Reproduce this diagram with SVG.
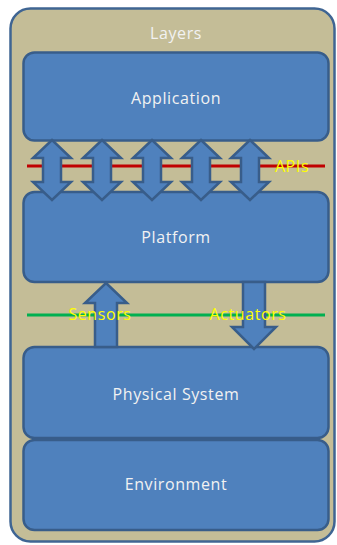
<svg xmlns="http://www.w3.org/2000/svg" width="337" height="545" viewBox="0 0 337 545">
  <style>
    .frame { fill: #C4BD97; stroke: #3F6593; stroke-width: 2.5; }
    .box { fill: #4F81BD; stroke: #385D8A; stroke-width: 2.5; }
    .arrow { fill: #4F81BD; stroke: #385D8A; stroke-width: 2.5; stroke-linejoin: miter; }
    .label { font-family: "Open Sans", "Liberation Sans", sans-serif; font-size: 16px; letter-spacing: 0.6px; fill: #F2F2F2; text-anchor: middle; }
    .tag { font-family: "Open Sans", "Liberation Sans", sans-serif; font-size: 16px; letter-spacing: 0.6px; fill: #FFFF00; text-anchor: middle; }
  </style>

  <!-- outer container -->
  <g id="layers">
    <rect class="frame" x="10.5" y="8.5" width="324" height="533" rx="20" ry="20"/>
    <text class="label" x="176" y="39">Layers</text>
  </g>

  <!-- interface lines -->
  <g id="lines">
    <line x1="27" y1="166" x2="325" y2="166" stroke="#C00000" stroke-width="3"/>
    <line x1="27" y1="315" x2="325" y2="315" stroke="#00B050" stroke-width="3"/>
  </g>

  <g id="application">
    <rect class="box" x="23.5" y="52.5" width="305" height="88" rx="11" ry="11"/>
    <text class="label" x="176" y="104">Application</text>
  </g>

  <g id="platform">
    <rect class="box" x="23.5" y="192" width="305" height="90" rx="11" ry="11"/>
    <text class="label" x="176" y="243">Platform</text>
  </g>

  <g id="physical-system">
    <rect class="box" x="23.5" y="347" width="305" height="91" rx="11" ry="11"/>
    <text class="label" x="176" y="400">Physical System</text>
  </g>

  <g id="environment">
    <rect class="box" x="23.5" y="440" width="305" height="90" rx="11" ry="11"/>
    <text class="label" x="176" y="490">Environment</text>
  </g>

  <!-- connectors -->
  <g id="connectors">
    <defs>
      <polygon id="dbl" points="0,-30 19,-12 9,-12 9,12 19,12 0,30 -19,12 -9,12 -9,-12 -19,-12"/>
    </defs>
    <use href="#dbl" class="arrow" x="52" y="170"/>
    <use href="#dbl" class="arrow" x="102" y="170"/>
    <use href="#dbl" class="arrow" x="152" y="170"/>
    <use href="#dbl" class="arrow" x="201" y="170"/>
    <use href="#dbl" class="arrow" x="250" y="170"/>
    <!-- sensors: up -->
    <polygon class="arrow" points="106,283 127,303 117,303 117,347 95,347 95,303 85,303"/>
    <!-- actuators: down -->
    <polygon class="arrow" points="243,282 265,282 265,327 276,327 254,349 232,327 243,327"/>
  </g>

  <g id="interface-labels">
    <text class="tag" x="292" y="172">APIs</text>
    <text class="tag" x="100" y="320">Sensors</text>
    <text class="tag" x="248" y="320">Actuators</text>
  </g>
</svg>
